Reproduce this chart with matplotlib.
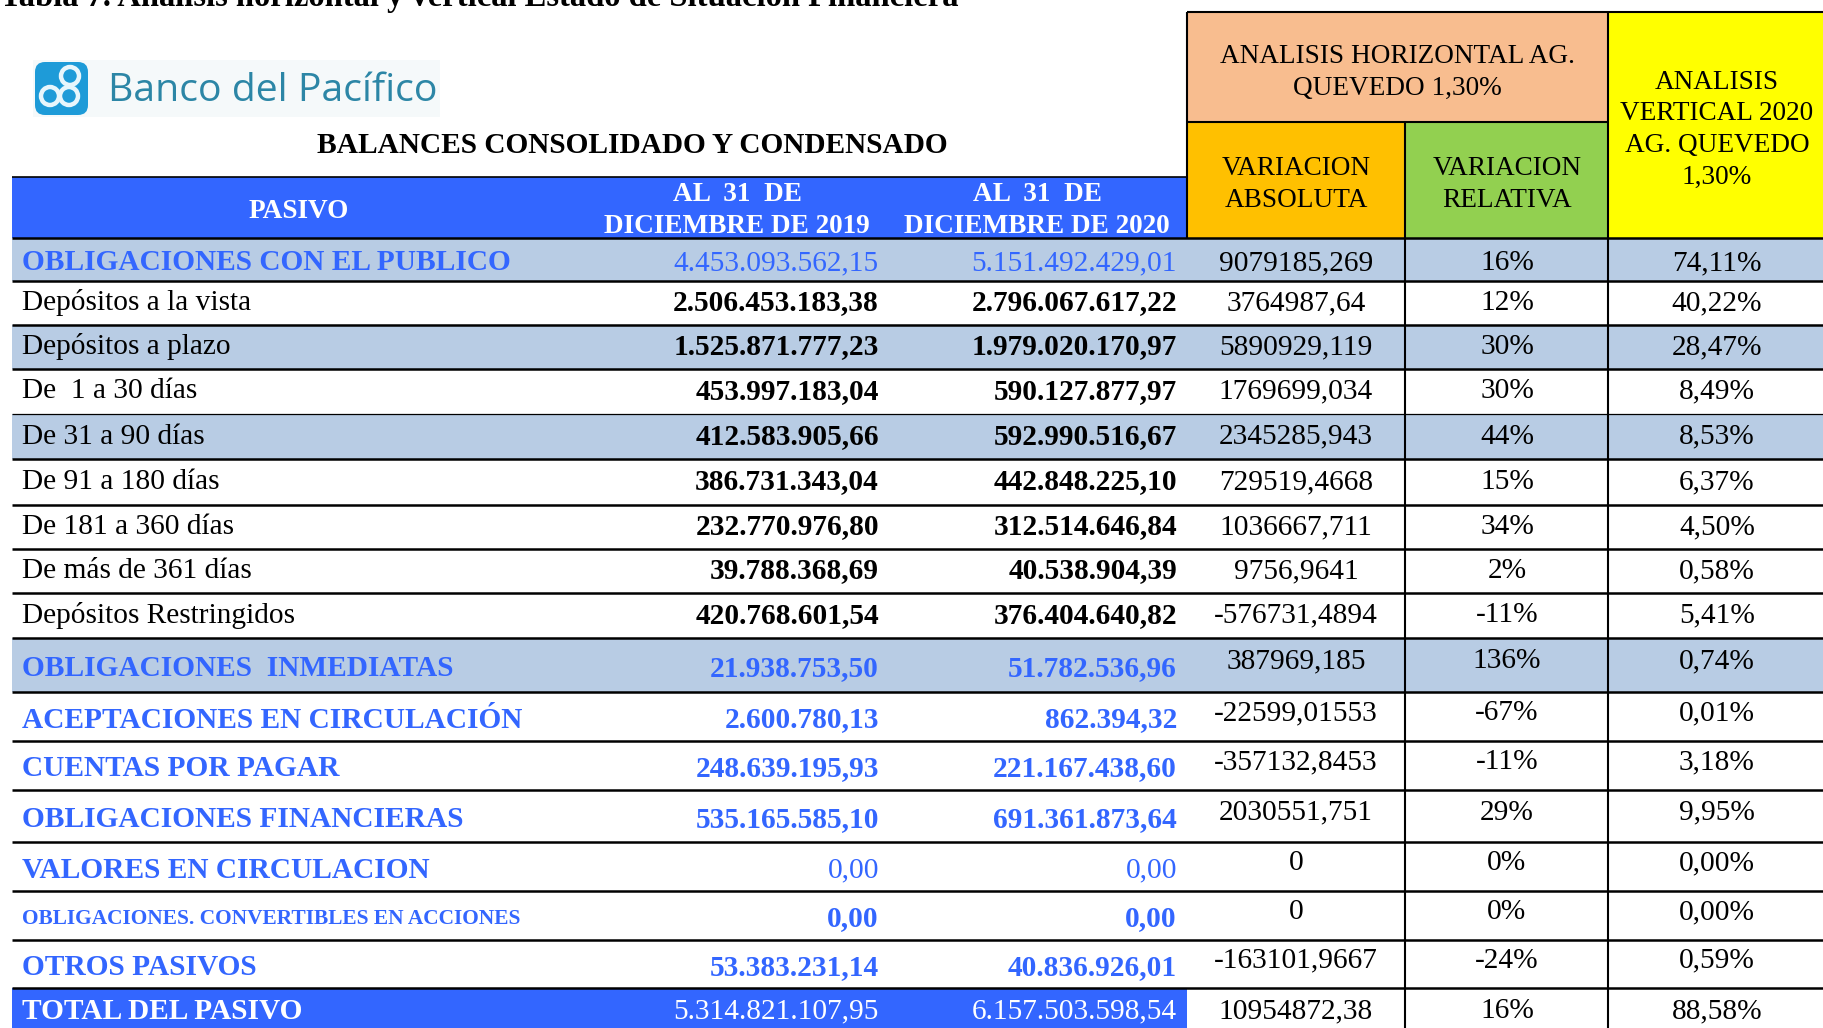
import matplotlib
matplotlib.use("Agg")
import matplotlib.pyplot as plt
from matplotlib.patches import Rectangle, FancyBboxPatch, Circle

# table data
labels = ["OBLIGACIONES CON EL PUBLICO", "Depósitos a la vista", "Depósitos a plazo",
          "De  1 a 30 días", "De 31 a 90 días", "De 91 a 180 días", "De 181 a 360 días",
          "De más de 361 días", "Depósitos Restringidos", "OBLIGACIONES  INMEDIATAS",
          "ACEPTACIONES EN CIRCULACIÓN", "CUENTAS POR PAGAR", "OBLIGACIONES FINANCIERAS",
          "VALORES EN CIRCULACION", "OBLIGACIONES. CONVERTIBLES EN ACCIONES",
          "OTROS PASIVOS", "TOTAL DEL PASIVO"]
dic2019 = ["4.453.093.562,15", "2.506.453.183,38", "1.525.871.777,23", "453.997.183,04",
           "412.583.905,66", "386.731.343,04", "232.770.976,80", "39.788.368,69",
           "420.768.601,54", "21.938.753,50", "2.600.780,13", "248.639.195,93",
           "535.165.585,10", "0,00", "0,00", "53.383.231,14", "5.314.821.107,95"]
dic2020 = ["5.151.492.429,01", "2.796.067.617,22", "1.979.020.170,97", "590.127.877,97",
           "592.990.516,67", "442.848.225,10", "312.514.646,84", "40.538.904,39",
           "376.404.640,82", "51.782.536,96", "862.394,32", "221.167.438,60",
           "691.361.873,64", "0,00", "0,00", "40.836.926,01", "6.157.503.598,54"]
var_abs = ["9079185,269", "3764987,64", "5890929,119", "1769699,034", "2345285,943",
           "729519,4668", "1036667,711", "9756,9641", "-576731,4894", "387969,185",
           "-22599,01553", "-357132,8453", "2030551,751", "0", "0", "-163101,9667",
           "10954872,38"]
var_rel = ["16%", "12%", "30%", "30%", "44%", "15%", "34%", "2%", "-11%", "136%",
           "-67%", "-11%", "29%", "0%", "0%", "-24%", "16%"]
vertical = ["74,11%", "40,22%", "28,47%", "8,49%", "8,53%", "6,37%", "4,50%", "0,58%",
            "5,41%", "0,74%", "0,01%", "3,18%", "9,95%", "0,00%", "0,00%", "0,59%",
            "88,58%"]

# row kinds: 'cat' = blue category, 'det' = detail line, 'tot' = total
kinds = ["cat"] + ["det"] * 8 + ["cat"] * 7 + ["tot"]
shaded = [0, 2, 4, 9]

# layout in pixels
W, H = 1823, 1028
row_edges = [238, 281, 325, 369, 414, 459, 505, 549, 593, 638, 692, 741, 790,
             842, 891, 940, 988, 1028]
x_left = 12
x_abs, x_rel, x_ver = 1187, 1405, 1608

BLUE = "#3366FF"
LIGHT = "#B8CCE4"
serif = "Liberation Serif"
FS = 21.2
dy = 3.5  # text sits a little below the cell middle

fig = plt.figure(figsize=(W / 100, H / 100), dpi=100)
ax = fig.add_axes([0, 0, 1, 1])
ax.set_xlim(0, W)
ax.set_ylim(H, 0)
ax.axis("off")

# caption, cut by the top edge as in the source
ax.text(0, 6, "Tabla 7. Análisis horizontal y vertical Estado de Situación Financiera",
        family=serif, weight="bold", fontsize=23.5, va="baseline", ha="left")

# logo
ax.add_patch(Rectangle((33, 60), 407, 57, facecolor="#F5F9FA", edgecolor="none"))
ax.add_patch(FancyBboxPatch((35, 62), 53, 53, boxstyle="round,pad=0,rounding_size=10",
                            facecolor="#1E9BD8", edgecolor="none"))
for cx, cy, r in [(50, 96, 9), (69, 96, 9), (70, 76, 9)]:
    ax.add_patch(Circle((cx, cy), r, facecolor="#1E9BD8", edgecolor="#E8F6FC", lw=3.2))
ax.text(108, 101, "Banco del Pacífico", family="Open Sans", fontsize=28.3,
        color="#2C86A6", va="baseline", ha="left")

ax.text(632, 142 + dy, "BALANCES CONSOLIDADO Y CONDENSADO", family=serif, weight="bold",
        fontsize=FS, ha="center", va="center")

# header boxes
ax.add_patch(Rectangle((x_left, 177), x_abs - x_left, 238 - 177, facecolor=BLUE, edgecolor="none"))
ax.add_patch(Rectangle((x_abs, 12), x_ver - x_abs, 122 - 12, facecolor="#F8BD8F", edgecolor="none"))
ax.add_patch(Rectangle((x_abs, 122), x_rel - x_abs, 238 - 122, facecolor="#FFC000", edgecolor="none"))
ax.add_patch(Rectangle((x_rel, 122), x_ver - x_rel, 238 - 122, facecolor="#92D050", edgecolor="none"))
ax.add_patch(Rectangle((x_ver, 12), W - x_ver, 238 - 12, facecolor="#FFFF00", edgecolor="none"))

hdr = dict(family=serif, fontsize=19.6, ha="center", va="center", linespacing=1.4)
ax.text(299, 208 + dy, "PASIVO", color="white", weight="bold", **hdr)
ax.text(737, 207 + dy, "AL  31  DE\nDICIEMBRE DE 2019", color="white", weight="bold", **hdr)
ax.text(1037, 207 + dy, "AL  31  DE\nDICIEMBRE DE 2020", color="white", weight="bold", **hdr)
ax.text(1397, 69 + dy, "ANALISIS HORIZONTAL AG.\nQUEVEDO 1,30%", **hdr)
ax.text(1296, 181 + dy, "VARIACION\nABSOLUTA", **hdr)
ax.text(1507, 181 + dy, "VARIACION\nRELATIVA", **hdr)
ax.text(1717, 126 + dy, "ANALISIS\nVERTICAL 2020\nAG. QUEVEDO\n1,30%",
        family=serif, fontsize=19.6, ha="center", va="center", linespacing=1.35)

# row backgrounds
for i in shaded:
    ax.add_patch(Rectangle((x_left, row_edges[i]), W - x_left, row_edges[i + 1] - row_edges[i],
                           facecolor=LIGHT, edgecolor="none"))
ax.add_patch(Rectangle((x_left, row_edges[16]), x_abs - x_left, row_edges[17] - row_edges[16],
                       facecolor=BLUE, edgecolor="none"))

# grid lines
for y in row_edges[:-1]:
    lw = 0.9 if y == 414 else 1.8
    ax.hlines(y, x_left, W, color="black", lw=lw)
ax.hlines(177, x_left, x_abs, color="black", lw=1.2)
ax.hlines(12, x_abs, W, color="black", lw=1.5)
ax.hlines(122, x_abs, x_ver, color="black", lw=1.5)
ax.vlines(x_abs, 12, 238, color="black", lw=1.5)
ax.vlines(x_rel, 122, H, color="black", lw=1.5)
ax.vlines(x_ver, 12, H, color="black", lw=1.5)

# cell text
for i, lab in enumerate(labels):
    kind = kinds[i]
    yc = (row_edges[i] + row_edges[i + 1]) / 2 + (0 if kind == "det" else dy)
    size = 15.4 if lab.startswith("OBLIGACIONES.") else FS
    if kind == "cat":
        lab_kw = dict(color=BLUE, weight="bold")
        num_kw = dict(color=BLUE, weight="normal" if i in (0, 13) else "bold")
    elif kind == "det":
        lab_kw = dict(color="black", weight="normal")
        num_kw = dict(color="black", weight="bold")
    else:
        lab_kw = dict(color="white", weight="bold")
        num_kw = dict(color="white", weight="normal")
    ax.text(22, yc, lab, family=serif, fontsize=size, ha="left", va="center", **lab_kw)
    ax.text(879, yc, dic2019[i], family=serif, fontsize=FS, ha="right", va="center", **num_kw)
    ax.text(1177, yc, dic2020[i], family=serif, fontsize=FS, ha="right", va="center", **num_kw)
    yr = yc - 7 if 9 <= i <= 15 else yc
    for xc, val in [(1296, var_abs[i]), (1507, var_rel[i]), (1717, vertical[i])]:
        ax.text(xc, yr, val, family=serif, fontsize=FS, ha="center", va="center")

fig.savefig("out.png", dpi=100)
